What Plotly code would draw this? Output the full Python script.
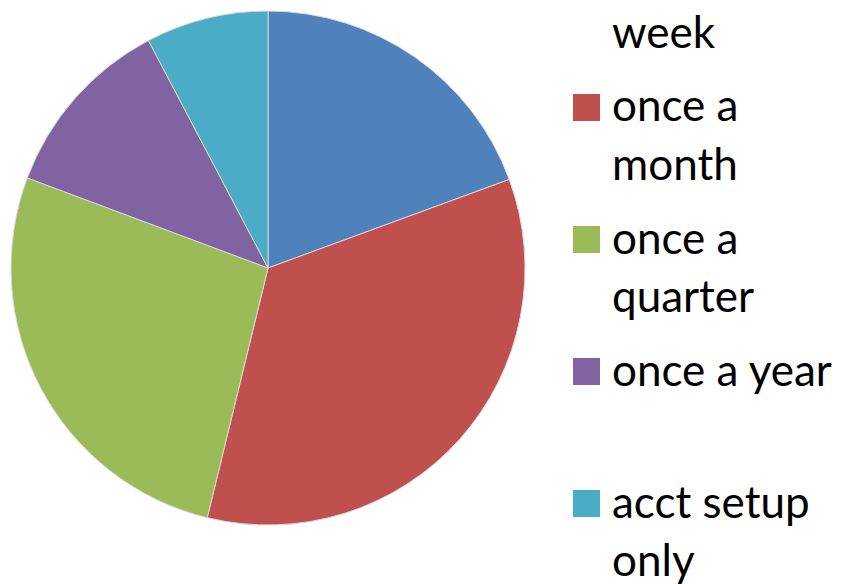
import plotly.graph_objects as go

labels = ["once a<br>week", "once a<br>month", "once a<br>quarter", "once a year", "acct setup<br>only"]
values = [19.4, 34.4, 26.9, 11.6, 7.7]
colors = ["#4F81BD", "#C0504D", "#9BBB59", "#8064A2", "#4BACC6"]

W, H = 842, 584
OFF = 8  # default body margin of the html page


def px_x(sx):
    return (sx - OFF) / W


def px_y(sy):
    return 1 - (sy - OFF) / H


fig = go.Figure(go.Pie(
    labels=labels,
    values=values,
    sort=False,
    direction="clockwise",
    rotation=0,
    textinfo="none",
    hoverinfo="label+percent",
    marker=dict(colors=colors, line=dict(color="#D9D9D9", width=1)),
    domain=dict(x=[px_x(10), px_x(526)], y=[px_y(525), px_y(11)]),
))

# legend drawn at its own spot, first entry runs off the top like the original
entry_top = -24.5
entry_step = 132
line_step = 58
for i, (lab, col) in enumerate(zip(labels, colors)):
    cy = entry_top + i * entry_step
    fig.add_shape(type="rect", xref="paper", yref="paper",
                  x0=px_x(573), x1=px_x(600), y0=px_y(cy + 13.5), y1=px_y(cy - 13.5),
                  fillcolor=col, line=dict(width=0))
    for j, part in enumerate(lab.split("<br>")):
        fig.add_annotation(text=part, xref="paper", yref="paper",
                           x=px_x(610), y=px_y(cy + j * line_step - 3),
                           xanchor="left", yanchor="middle", showarrow=False,
                           font=dict(family="Lato, Open Sans, sans-serif", size=44, color="black"))

fig.update_layout(
    width=W, height=H,
    margin=dict(l=0, r=0, t=0, b=0, autoexpand=False),
    paper_bgcolor="white",
    plot_bgcolor="white",
    showlegend=False,
)

fig.write_html("out.html")
